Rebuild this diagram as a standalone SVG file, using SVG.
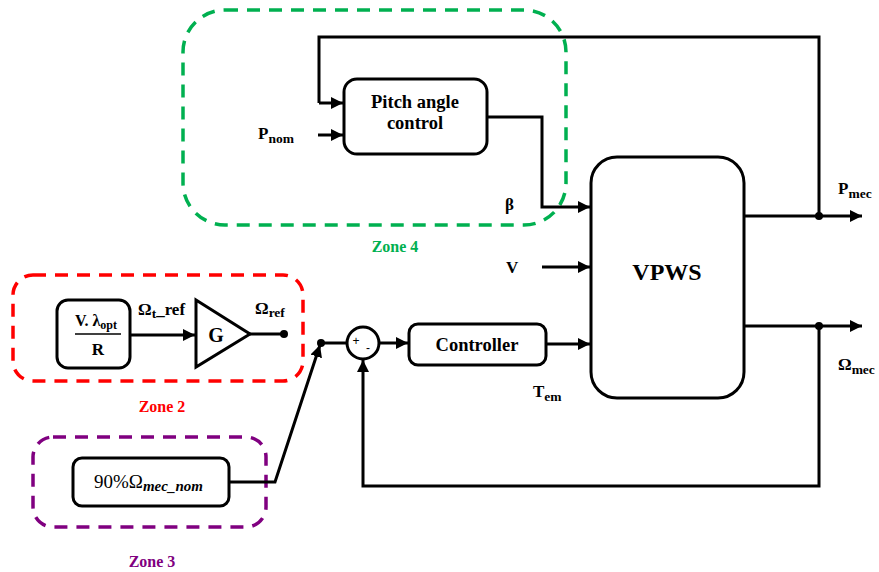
<svg xmlns="http://www.w3.org/2000/svg" width="879" height="572" viewBox="0 0 879 572">
  <style>
    .blk { fill: #fff; stroke: #000; stroke-width: 3; }
    .wire { fill: none; stroke: #000; stroke-width: 3; }
    .arr { fill: none; stroke: #000; stroke-width: 3; marker-end: url(#ah); }
    .zone { fill: none; stroke-width: 3.5; stroke-dasharray: 13 9; }
    .t { font-family: "Liberation Serif", "DejaVu Serif", serif; font-weight: bold; fill: #000; }
    .lbl { font-size: 17px; }
    .sub { font-size: 13.5px; }
    .zl { font-family: "Liberation Serif", "DejaVu Serif", serif; font-weight: bold; font-size: 16px; }
  </style>
  <defs>
    <marker id="ah" viewBox="0 0 10 10" refX="10" refY="5" markerWidth="4" markerHeight="4" orient="auto" markerUnits="strokeWidth">
      <path d="M0,0 L10,5 L0,10 Z" fill="#000"/>
    </marker>
  </defs>

  <rect width="879" height="572" fill="#fff"/>

  <!-- zone outlines -->
  <g id="zone4">
    <rect class="zone" x="183" y="10" width="383" height="215" rx="42" stroke="#00b050"/>
    <text class="zl" x="395" y="252" text-anchor="middle" fill="#00b050">Zone 4</text>
  </g>
  <g id="zone2">
    <rect class="zone" x="13" y="275" width="290" height="106" rx="20" stroke="#ff0000"/>
    <text class="zl" x="162" y="412" text-anchor="middle" fill="#ff0000">Zone 2</text>
  </g>
  <g id="zone3">
    <rect class="zone" x="33" y="437" width="233" height="90" rx="20" stroke="#800080"/>
    <text class="zl" x="152" y="567" text-anchor="middle" fill="#800080">Zone 3</text>
  </g>

  <!-- connectors -->
  <g id="connectors">
    <!-- P_mec feedback to pitch control -->
    <polyline class="wire" points="819,216 819,37 319,37 319,103"/>
    <polyline class="arr" points="319,103 343,103"/>
    <line class="arr" x1="318" y1="135" x2="343" y2="135"/>
    <!-- beta -->
    <polyline class="arr" points="487,117 542,117 542,207 590,207"/>
    <!-- V -->
    <line class="arr" x1="542" y1="267" x2="590" y2="267"/>
    <!-- T_em -->
    <line class="arr" x1="546" y1="344" x2="590" y2="344"/>
    <!-- outputs -->
    <line class="arr" x1="744" y1="216" x2="862" y2="216"/>
    <line class="arr" x1="744" y1="326" x2="862" y2="326"/>
    <circle cx="819" cy="216" r="4" fill="#000"/>
    <circle cx="819" cy="326" r="4" fill="#000"/>
    <!-- speed feedback to summer -->
    <polyline class="arr" points="819,326 819,486 363,486 363,360"/>
    <!-- reference path -->
    <line class="arr" x1="130" y1="335" x2="195" y2="335"/>
    <line class="wire" x1="250" y1="334" x2="284" y2="334"/>
    <circle cx="284" cy="334" r="4" fill="#000"/>
    <polyline class="arr" points="229,482 275,482 320,345"/>
    <circle cx="321" cy="343" r="4" fill="#000"/>
    <line class="wire" x1="321" y1="343" x2="347" y2="343"/>
    <line class="arr" x1="379" y1="343" x2="408" y2="343"/>
  </g>

  <!-- blocks -->
  <g id="pitch">
    <rect class="blk" x="344" y="79" width="143" height="75" rx="13"/>
    <text class="t" x="415" y="108" font-size="18.5" text-anchor="middle">Pitch angle</text>
    <text class="t" x="415" y="129" font-size="18.5" text-anchor="middle">control</text>
  </g>
  <g id="vpws">
    <rect class="blk" x="591" y="157" width="153" height="241" rx="26"/>
    <text class="t" x="667" y="280" font-size="24" text-anchor="middle">VPWS</text>
  </g>
  <g id="controller">
    <rect class="blk" x="409" y="324" width="137" height="41" rx="9"/>
    <text class="t" x="477" y="351" font-size="18.5" text-anchor="middle">Controller</text>
  </g>
  <g id="summer">
    <circle class="blk" cx="363" cy="343" r="16"/>
    <text x="356" y="345" font-family="Liberation Sans, sans-serif" font-size="12" text-anchor="middle">+</text>
    <text x="368" y="352" font-family="Liberation Sans, sans-serif" font-size="12" text-anchor="middle">-</text>
  </g>
  <g id="ratio">
    <rect class="blk" x="57" y="300" width="73" height="68" rx="11"/>
    <text class="t" x="75" y="326" font-size="16">V. λ<tspan font-size="12" dy="3">opt</tspan></text>
    <line x1="75" y1="334" x2="121" y2="334" stroke="#000" stroke-width="1.5"/>
    <text class="t" x="98" y="355" font-size="17" text-anchor="middle">R</text>
  </g>
  <g id="gain">
    <polygon class="blk" points="196,300 250,334 196,367" stroke-linejoin="miter"/>
    <text class="t" x="216" y="342" font-size="20" text-anchor="middle">G</text>
  </g>
  <g id="speednom">
    <rect class="blk" x="73" y="458" width="156" height="48" rx="9"/>
    <text x="94" y="488" font-family="Liberation Serif, DejaVu Serif, serif" font-size="19">90%Ω<tspan font-style="italic" font-weight="bold" font-size="15" dy="3">mec_nom</tspan></text>
  </g>

  <!-- signal labels -->
  <g id="labels">
    <text class="t lbl" x="258" y="139">P<tspan class="sub" dy="4">nom</tspan></text>
    <text class="t lbl" x="505" y="210">β</text>
    <text class="t lbl" x="506" y="273">V</text>
    <text class="t lbl" x="533" y="397">T<tspan class="sub" dy="4">em</tspan></text>
    <text class="t lbl" x="838" y="194">P<tspan class="sub" dy="4">mec</tspan></text>
    <text class="t lbl" x="838" y="370">Ω<tspan class="sub" dy="4">mec</tspan></text>
    <text class="t lbl" x="138" y="315">Ω<tspan class="sub" dy="3">t</tspan><tspan dy="-3">_ref</tspan></text>
    <text class="t lbl" x="255" y="314">Ω<tspan class="sub" dy="3">ref</tspan></text>
  </g>
</svg>
